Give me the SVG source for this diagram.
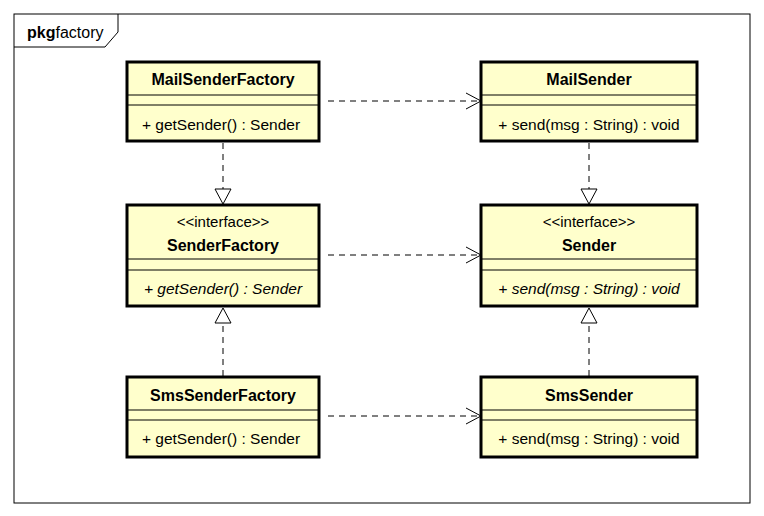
<svg xmlns="http://www.w3.org/2000/svg" width="764" height="516" viewBox="0 0 764 516">
<style>
.box{fill:#ffffcc;stroke:#000;stroke-width:3}
.ln{stroke:#000;stroke-width:1}
text{font-family:"Liberation Sans",Arial,sans-serif;font-size:15.5px;text-anchor:middle;fill:#000}
.b{font-weight:bold;font-size:16px}
.s{font-size:15px}
.i{font-style:italic}
.d{stroke:#000;stroke-width:1;stroke-dasharray:6,5;fill:none}
.tri{fill:#fff;stroke:#000;stroke-width:1}
.open{fill:none;stroke:#000;stroke-width:1}
</style>
<rect width="764" height="516" fill="#fff"/>
<g id="frame">
<rect x="14" y="14" width="736" height="489" fill="none" stroke="#000"/>
<path d="M14,47 H105 L118,32 V14" fill="none" stroke="#000"/>
<text x="27" y="38" style="text-anchor:start;font-size:16px"><tspan style="font-weight:bold">pkg</tspan>factory</text>
</g>
<g id="connectors">
<line class="d" x1="328" y1="101" x2="480" y2="101"/><path class="open" d="M466,93 L481,101 L466,109"/>
<line class="d" x1="328" y1="255" x2="480" y2="255"/><path class="open" d="M466,247 L481,255 L466,263"/>
<line class="d" x1="328" y1="416" x2="480" y2="416"/><path class="open" d="M466,408 L481,416 L466,424"/>
<line class="d" x1="223" y1="143" x2="223" y2="189"/><path class="tri" d="M215,189 L231,189 L223,204 Z"/>
<line class="d" x1="589" y1="143" x2="589" y2="189"/><path class="tri" d="M581,189 L597,189 L589,204 Z"/>
<line class="d" x1="223" y1="376" x2="223" y2="323"/><path class="tri" d="M215,323 L231,323 L223,308 Z"/>
<line class="d" x1="589" y1="376" x2="589" y2="323"/><path class="tri" d="M581,323 L597,323 L589,308 Z"/>
</g>
<g id="MailSenderFactory">
<rect class="box" x="127" y="62" width="192" height="79"/>
<line class="ln" x1="127" y1="95" x2="319" y2="95"/><line class="ln" x1="127" y1="105" x2="319" y2="105"/>
<text class="b" x="223" y="85">MailSenderFactory</text>
<text x="221" y="130">+ getSender() : Sender</text>
</g>
<g id="MailSender">
<rect class="box" x="481" y="62" width="216" height="79"/>
<line class="ln" x1="481" y1="95" x2="697" y2="95"/><line class="ln" x1="481" y1="105" x2="697" y2="105"/>
<text class="b" x="589" y="85">MailSender</text>
<text x="589" y="130">+ send(msg : String) : void</text>
</g>
<g id="SenderFactory">
<rect class="box" x="127" y="205" width="192" height="101"/>
<line class="ln" x1="127" y1="259" x2="319" y2="259"/><line class="ln" x1="127" y1="270" x2="319" y2="270"/>
<text class="s" x="223" y="227">&lt;&lt;interface&gt;&gt;</text>
<text class="b" x="223" y="251">SenderFactory</text>
<text class="i" x="223" y="294">+ getSender() : Sender</text>
</g>
<g id="Sender">
<rect class="box" x="481" y="205" width="216" height="101"/>
<line class="ln" x1="481" y1="259" x2="697" y2="259"/><line class="ln" x1="481" y1="270" x2="697" y2="270"/>
<text class="s" x="589" y="227">&lt;&lt;interface&gt;&gt;</text>
<text class="b" x="589" y="251">Sender</text>
<text class="i" x="589" y="294">+ send(msg : String) : void</text>
</g>
<g id="SmsSenderFactory">
<rect class="box" x="127" y="377" width="192" height="80"/>
<line class="ln" x1="127" y1="410" x2="319" y2="410"/><line class="ln" x1="127" y1="420" x2="319" y2="420"/>
<text class="b" x="223" y="401">SmsSenderFactory</text>
<text x="221" y="444">+ getSender() : Sender</text>
</g>
<g id="SmsSender">
<rect class="box" x="481" y="377" width="216" height="80"/>
<line class="ln" x1="481" y1="410" x2="697" y2="410"/><line class="ln" x1="481" y1="420" x2="697" y2="420"/>
<text class="b" x="589" y="401">SmsSender</text>
<text x="589" y="444">+ send(msg : String) : void</text>
</g>
</svg>
